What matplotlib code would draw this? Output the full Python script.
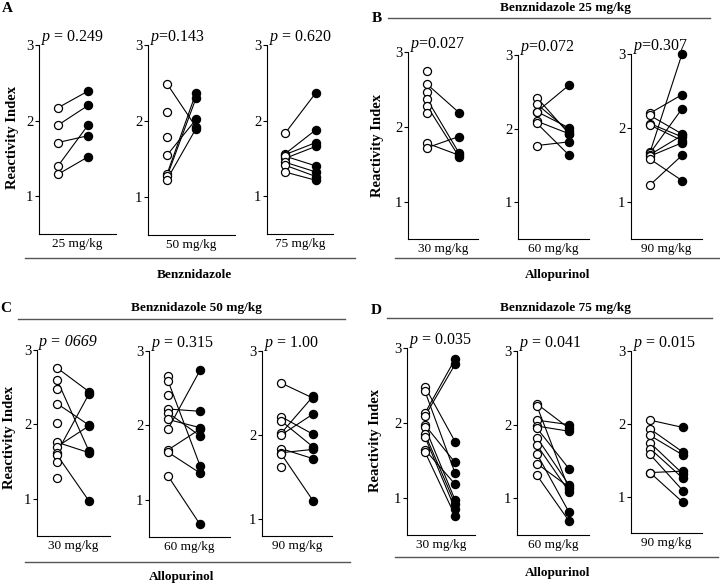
import numpy as np
import matplotlib.pyplot as plt
from matplotlib.lines import Line2D

plt.rcParams['font.family'] = 'Liberation Serif'
plt.rcParams['mathtext.fontset'] = 'custom'
plt.rcParams['mathtext.it'] = 'Liberation Serif:italic'
plt.rcParams['mathtext.rm'] = 'Liberation Serif'

# ---- data: reactivity index before (open) and after (filled), NaN = unpaired
a25_pre = [2.17, 1.94, 1.71, 1.40, 1.29]
a25_post = [2.39, 2.20, 1.80, 1.94, 1.52]
a50_pre = [2.49, 2.12, 1.79, 1.55, 1.30, 1.27, 1.23]
a50_post = [1.92, np.nan, np.nan, 2.02, 2.37, 2.30, 1.90]
a75_pre = [1.83, 1.56, 1.55, 1.50, 1.53, 1.45, 1.41, 1.32]
a75_post = [2.37, 1.88, 1.71, 1.66, 1.40, 1.32, 1.26, 1.21]

b30_pre = [2.74, 2.57, 2.47, 2.37, 2.28, 2.19, 1.78, 1.72]
b30_post = [np.nan, 2.19, np.nan, 1.65, 1.60, np.nan, 1.62, 1.87]
b60_pre = [2.42, 2.33, 2.23, 2.23, 2.10, 2.07, 1.77]
b60_post = [1.93, 1.97, 2.59, 2.01, 1.93, 1.64, 1.82]
b90_pre = [2.20, 2.17, 2.06, 2.04, 1.67, 1.66, 1.64, 1.62, 1.58, 1.23]
b90_post = [2.45, 1.92, 1.88, 1.83, 3.00, 2.26, 1.90, 1.80, 1.29, 1.63]

c30_pre = [2.76, 2.60, 2.47, 2.28, 2.02, 1.76, 1.70, 1.62, 1.59, 1.49, 1.28]
c30_post = [2.44, 1.64, np.nan, 1.99, np.nan, 1.62, 1.98, 2.41, 0.97, np.nan, np.nan]
c60_pre = [2.67, 2.60, 2.41, 2.22, 2.17, 2.08, 1.95, 1.67, 1.64, 1.32]
c60_post = [np.nan, 1.46, np.nan, 2.19, 1.86, 1.97, 2.74, 1.95, 1.36, 0.67]
c90_pre = [2.62, 2.22, 2.17, 2.02, 2.00, 1.84, 1.79, 1.78, 1.62]
c90_post = [2.44, 2.01, 1.86, 2.46, 2.25, 1.72, 1.83, 1.22, np.nan]

d30_pre = [2.48, 2.42, 2.13, 2.09, 1.97, 1.94, 1.85, 1.81, 1.64, 1.61]
d30_post = [1.75, 1.33, 2.85, 2.78, 1.47, 0.97, 0.92, 0.85, 1.18, 0.76]
d60_pre = [2.28, 2.25, 2.06, 1.98, 1.95, 1.82, 1.72, 1.60, 1.47, 1.31]
d60_post = [1.95, 1.12, 2.00, 1.91, 1.40, 1.18, 1.09, 0.81, 1.15, 0.69]
d90_pre = [2.05, 1.93, 1.84, 1.74, 1.66, 1.58, 1.33, 1.33]
d90_post = [1.95, 1.61, 1.57, 1.31, 1.25, 1.08, 1.35, 0.92]

benz_doses = ['25 mg/kg', '50 mg/kg', '75 mg/kg']
allo_doses = ['30 mg/kg', '60 mg/kg', '90 mg/kg']
p_a = [r'$p$ = 0.249', r'$p$=0.143', r'$p$ = 0.620']
p_b = [r'$p$=0.027', r'$p$=0.072', r'$p$=0.307']
p_c = ['p = 0669', r'$p$ = 0.315', r'$p$ = 1.00']
p_d = [r'$p$ = 0.035', r'$p$ = 0.041', r'$p$ = 0.015']

W, H = 720, 586
fig = plt.figure(figsize=(7.2, 5.86), dpi=100)


def ftext(x, y, s, **kw):
    fig.text(x / W, 1 - y / H, s, **kw)


def hline(x0, x1, y):
    fig.add_artist(Line2D([x0 / W, x1 / W], [1 - y / H, 1 - y / H],
                          color='#555555', lw=1.0))


def pair_plot(box, xs, pre, post, dose, ptext, ymin=0.5, italic=False):
    x0, y0, x1, y1 = box
    ax = fig.add_axes([x0 / W, 1 - y1 / H, (x1 - x0) / W, (y1 - y0) / H])
    pre = np.asarray(pre, float)
    post = np.asarray(post, float)
    ok = ~np.isnan(pre) & ~np.isnan(post)
    for a, b in zip(pre[ok], post[ok]):
        ax.plot([0, 1], [a, b], color='black', lw=0.8, zorder=1)
    ax.plot(np.zeros(len(pre)), pre, 'o', mfc='white', mec='black',
            ms=5.8, mew=0.9, zorder=2, clip_on=False)
    ax.plot(np.ones(len(post)), post, 'o', mfc='black', mec='black',
            ms=5.8, zorder=3, clip_on=False)
    unit = xs[1] - xs[0]
    ax.set_xlim((x0 - xs[0]) / unit, (x1 - xs[0]) / unit)
    ax.set_ylim(ymin, 3)
    ax.set_yticks([1, 2, 3])
    ax.set_xticks([])
    ax.spines[['top', 'right']].set_visible(False)
    ax.spines[['left', 'bottom']].set_linewidth(0.8)
    ax.tick_params(axis='y', length=3, width=0.8, labelsize=10.5, pad=1)
    ax.set_xlabel(dose, fontsize=9.5, labelpad=3)
    ftext(x0 + 2, y0 - 4, ptext, fontsize=11.5, ha='left', va='baseline',
          style='italic' if italic else 'normal')
    return ax


# ---- panel A
pair_plot((39, 45, 116, 234), (58, 88), a25_pre, a25_post, benz_doses[0], p_a[0])
pair_plot((148, 45, 235, 235), (167, 196), a50_pre, a50_post, benz_doses[1], p_a[1])
pair_plot((267, 45, 333, 234), (285, 316), a75_pre, a75_post, benz_doses[2], p_a[2])
hline(25, 355, 258)
ftext(194, 275, 'Benznidazole', fontsize=9.5, weight='bold', ha='center', va='center')
ftext(7, 9, 'A', fontsize=11, weight='bold', ha='center', va='center')
ftext(13, 137, 'Reactivity Index', fontsize=10.5, weight='bold', rotation=90,
      ha='center', va='center')

# ---- panel B
pair_plot((408, 52, 478, 239), (427, 459), b30_pre, b30_post, allo_doses[0], p_b[0])
pair_plot((518, 55, 589, 239), (537, 569), b60_pre, b60_post, allo_doses[1], p_b[1])
pair_plot((631, 54, 702, 239), (650, 682), b90_pre, b90_post, allo_doses[2], p_b[2])
hline(388, 710, 18)
hline(395, 720, 258)
ftext(565, 8, 'Benznidazole 25 mg/kg', fontsize=9.5, weight='bold', ha='center', va='center')
ftext(558, 275, 'Allopurinol', fontsize=9.5, weight='bold', ha='center', va='center')
ftext(377, 18, 'B', fontsize=11, weight='bold', ha='center', va='center')
ftext(377, 145, 'Reactivity Index', fontsize=10.5, weight='bold', rotation=90,
      ha='center', va='center')

# ---- panel C
pair_plot((37, 350, 110, 536), (57, 89), c30_pre, c30_post, allo_doses[0], p_c[0], italic=True)
pair_plot((149, 351, 230, 537), (168, 200), c60_pre, c60_post, allo_doses[1], p_c[1])
pair_plot((262, 351, 332, 536), (281, 313), c90_pre, c90_post, allo_doses[2], p_c[2], ymin=0.8)
hline(18, 345, 319)
hline(25, 350, 562)
ftext(196, 308, 'Benznidazole 50 mg/kg', fontsize=9.5, weight='bold', ha='center', va='center')
ftext(182, 577, 'Allopurinol', fontsize=9.5, weight='bold', ha='center', va='center')
ftext(6, 308, 'C', fontsize=11, weight='bold', ha='center', va='center')
ftext(10, 437, 'Reactivity Index', fontsize=10.5, weight='bold', rotation=90,
      ha='center', va='center')

# ---- panel D
pair_plot((407, 348, 475, 535), (425, 455), d30_pre, d30_post, allo_doses[0], p_d[0])
pair_plot((517, 351, 589, 535), (537, 569), d60_pre, d60_post, allo_doses[1], p_d[1])
pair_plot((631, 351, 702, 533), (650, 683), d90_pre, d90_post, allo_doses[2], p_d[2])
hline(387, 712, 318)
hline(395, 718, 557)
ftext(565, 308, 'Benznidazole 75 mg/kg', fontsize=9.5, weight='bold', ha='center', va='center')
ftext(558, 573, 'Allopurinol', fontsize=9.5, weight='bold', ha='center', va='center')
ftext(376, 310, 'D', fontsize=11, weight='bold', ha='center', va='center')
ftext(376, 440, 'Reactivity Index', fontsize=10.5, weight='bold', rotation=90,
      ha='center', va='center')

fig.savefig('out.png', dpi=100)
